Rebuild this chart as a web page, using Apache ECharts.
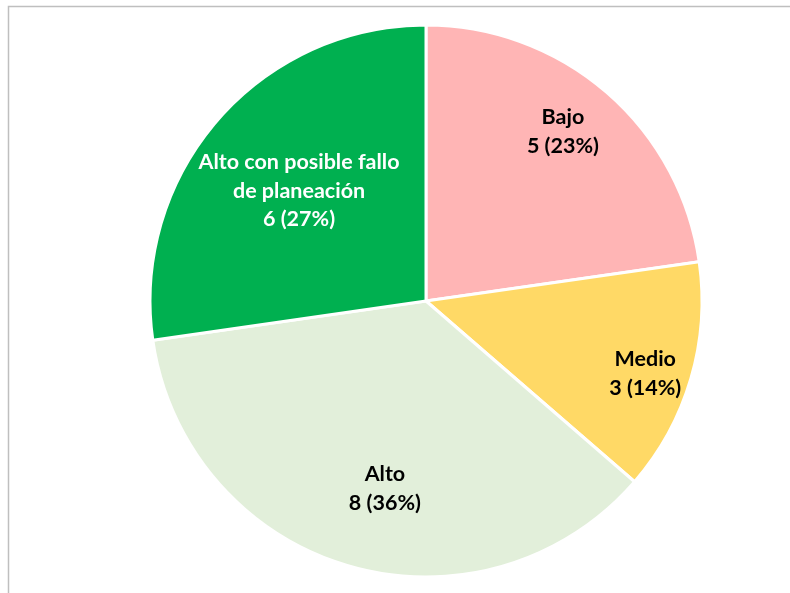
<!DOCTYPE html>
<html>
<head>
<meta charset="utf-8">
<script src="https://cdn.jsdelivr.net/npm/echarts@6/dist/echarts.min.js"></script>
<style>
  html, body { margin: 0; padding: 0; background: #fff; }
  #chart { width: 790px; height: 593px; }
</style>
</head>
<body>
<div id="chart"></div>
<script>
// categories and counts
var categories = ["Bajo", "Medio", "Alto", "Alto con posible fallo\nde planeación"];
var values = [5, 3, 8, 6];
var colors = ["#FFB5B5", "#FFD966", "#E2EFDA", "#00B050"];
var textColors = ["#000", "#000", "#000", "#fff"];
// label placement like the original: distance from centre (px) and angle tweak (deg)
var labelRadius = [218, 231, 192, 168];
var labelTurn = [-2, 2, -4, 0];

var cx = 426, cy = 301, r = 276;

var chart = echarts.init(document.getElementById("chart"));

var data = categories.map(function (c, i) {
  return {
    name: c,
    value: values[i],
    itemStyle: { color: colors[i] },
    label: { color: textColors[i] }
  };
});

chart.setOption({
  animation: false,
  graphic: [{
    type: "rect",
    shape: { x: 8.5, y: 6.5, width: 1000, height: 1000 },
    style: { fill: "none", stroke: "#BFBFBF", lineWidth: 1.5 },
    silent: true
  }],
  series: [{
    type: "pie",
    center: [cx, cy],
    radius: [0, r],
    startAngle: 90,
    clockwise: true,
    percentPrecision: 0,
    data: data,
    itemStyle: { borderColor: "#fff", borderWidth: 3 },
    label: {
      show: true,
      position: "inside",
      formatter: "{b}\n{c} ({d}%)",
      fontFamily: "Lato",
      fontWeight: "bold",
      fontSize: 21.5,
      lineHeight: 28.5,
      align: "center"
    },
    labelLine: { show: false },
    labelLayout: function (p) {
      var x0 = p.labelRect.x + p.labelRect.width / 2;
      var y0 = p.labelRect.y + p.labelRect.height / 2;
      var a = Math.atan2(x0 - cx, cy - y0) + labelTurn[p.dataIndex] * Math.PI / 180;
      var R = labelRadius[p.dataIndex];
      return { dx: cx + R * Math.sin(a) - x0, dy: cy - R * Math.cos(a) - y0 };
    }
  }]
});
</script>
</body>
</html>
